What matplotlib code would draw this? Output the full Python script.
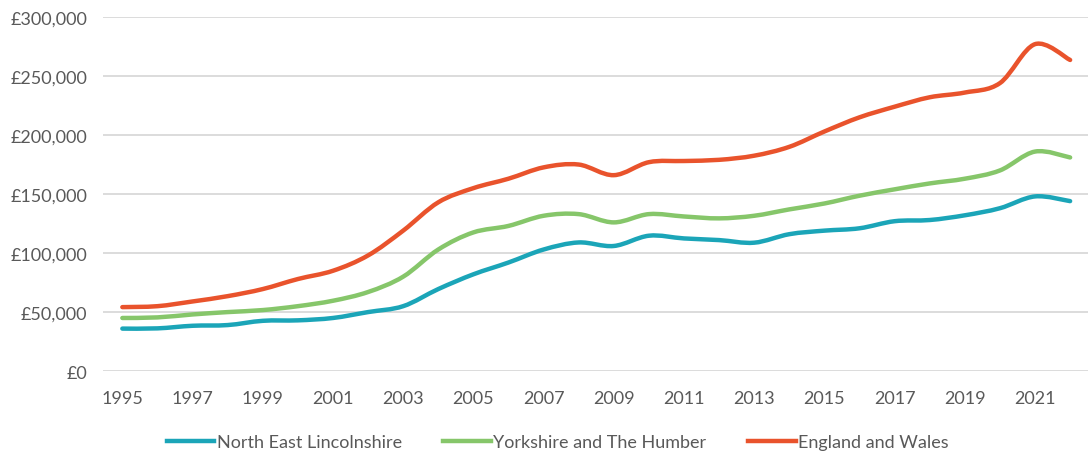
import numpy as np
import matplotlib
matplotlib.use("Agg")
import matplotlib.pyplot as plt
from matplotlib.path import Path
from matplotlib.patches import PathPatch
from matplotlib.lines import Line2D
from matplotlib.ticker import FuncFormatter, MultipleLocator

years = list(range(1995, 2023))

north_east_lincolnshire = [36000, 36200, 38400, 39000, 42600, 43000, 45000, 50000,
                           55000, 69500, 82000, 92000, 103000, 109000, 106000, 114700,
                           112400, 111000, 108800, 116000, 119000, 121000, 127000, 128000,
                           132000, 138000, 148000, 144000]
yorkshire_humber = [45000, 45500, 48000, 50000, 51700, 55000, 59600, 67000,
                    80000, 103000, 117500, 123000, 131600, 133000, 126000, 133000,
                    131000, 129400, 131600, 137000, 142000, 148600, 154000, 159000,
                    163000, 170000, 186000, 181000]
england_wales = [54200, 55000, 59000, 63500, 69500, 78000, 85000, 98000,
                 119000, 143000, 155000, 163000, 172600, 175000, 166000, 177000,
                 178000, 179000, 182500, 190000, 203000, 215000, 224000, 232000,
                 236000, 244000, 277000, 263600]

series = [
    ("North East Lincolnshire", north_east_lincolnshire, "#1BA5B8"),
    ("Yorkshire and The Humber", yorkshire_humber, "#86C66A"),
    ("England and Wales", england_wales, "#E9532C"),
]

plt.rcParams["font.family"] = ["Lato", "DejaVu Sans"]


def smooth_path(xs, ys):
    """Cubic Bezier path through the points (cardinal-spline style smoothing)."""
    pts = np.column_stack([xs, ys]).astype(float)
    n = len(pts)
    verts = [pts[0]]
    codes = [Path.MOVETO]
    for i in range(n - 1):
        p0 = pts[i - 1] if i > 0 else pts[i]
        p1 = pts[i]
        p2 = pts[i + 1]
        p3 = pts[i + 2] if i + 2 < n else pts[i + 1]
        c1 = p1 + (p2 - p0) / 6.0
        c2 = p2 - (p3 - p1) / 6.0
        verts += [c1, c2, p2]
        codes += [Path.CURVE4] * 3
    return Path(verts, codes)


fig = plt.figure(figsize=(10.88, 4.56), dpi=100)
ax = fig.add_axes([0.0947, 0.184, 0.905, 0.7765])

for name, vals, color in series:
    patch = PathPatch(smooth_path(years, vals), facecolor="none", edgecolor=color,
                      lw=3.2, capstyle="round", joinstyle="round", zorder=3)
    ax.add_patch(patch)

ax.set_xlim(1994.45, 2022.5)
ax.set_ylim(0, 300000)
ax.yaxis.set_major_locator(MultipleLocator(50000))
ax.yaxis.set_major_formatter(FuncFormatter(lambda v, p: "£0" if v == 0 else f"£{int(v):,}"))
ax.set_xticks(years[::2])
ax.set_xticklabels([str(y) for y in years[::2]])

ax.grid(axis="y", color="#D9D9D9", lw=1.3)
ax.set_axisbelow(True)
for s in ax.spines.values():
    s.set_visible(False)
ax.tick_params(axis="both", length=0, labelsize=13, labelcolor="#595959")
ax.tick_params(axis="y", pad=11.5)
ax.tick_params(axis="x", pad=13.5)

handles = [Line2D([0], [0], color=c, lw=3.2) for _, _, c in series]
labels = [n for n, _, _ in series]
fig.legend(handles, labels, loc="center", bbox_to_anchor=(0.5125, 0.0285), ncol=3,
           frameon=False, fontsize=13, handlelength=2.65, handletextpad=0.12,
           columnspacing=2.3, labelcolor="#595959")

fig.savefig("out.png", dpi=100, facecolor="white")
